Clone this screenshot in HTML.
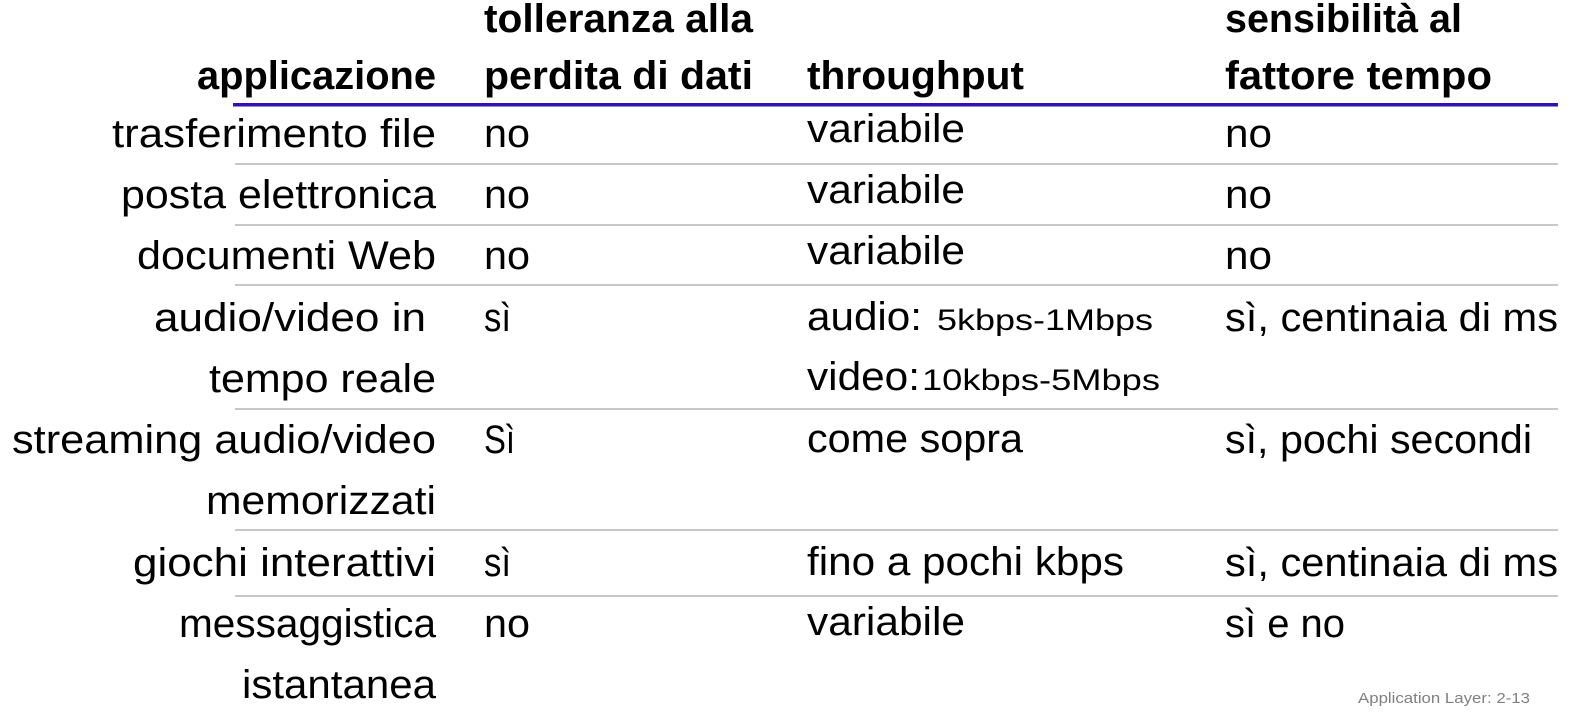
<!DOCTYPE html>
<html><head><meta charset="utf-8"><style>
html,body{margin:0;padding:0;background:#fff;width:1588px;height:724px;overflow:hidden}
svg text{font-family:"Liberation Sans",sans-serif;fill:#000}
</style></head><body>
<svg width="1588" height="724" xmlns="http://www.w3.org/2000/svg">
<g font-size="40" font-weight="bold">
<text x="484" y="32" textLength="269" lengthAdjust="spacingAndGlyphs">tolleranza alla</text>
<text x="1225" y="32" textLength="237" lengthAdjust="spacingAndGlyphs">sensibilità al</text>
<text x="197" y="89" textLength="239" lengthAdjust="spacingAndGlyphs">applicazione</text>
<text x="484" y="89" textLength="269" lengthAdjust="spacingAndGlyphs">perdita di dati</text>
<text x="807" y="89" textLength="217" lengthAdjust="spacingAndGlyphs">throughput</text>
<text x="1225" y="89" textLength="267" lengthAdjust="spacingAndGlyphs">fattore tempo</text>
</g>
<rect x="233" y="103" width="1325" height="3.5" fill="#3310b0"/>
<g fill="#c8c8c8">
<rect x="235" y="163" width="1323" height="2"/>
<rect x="235" y="224" width="1323" height="2"/>
<rect x="235" y="284" width="1323" height="2"/>
<rect x="235" y="408" width="1323" height="2"/>
<rect x="235" y="529" width="1323" height="2"/>
<rect x="235" y="595" width="1323" height="2"/>
</g>
<g font-size="40">
<text x="112" y="147" textLength="324" lengthAdjust="spacingAndGlyphs">trasferimento file</text>
<text x="121" y="208" textLength="315" lengthAdjust="spacingAndGlyphs">posta elettronica</text>
<text x="137" y="269" textLength="299" lengthAdjust="spacingAndGlyphs">documenti Web</text>
<text x="154" y="331" textLength="272" lengthAdjust="spacingAndGlyphs">audio/video in</text>
<text x="209" y="392" textLength="227" lengthAdjust="spacingAndGlyphs">tempo reale</text>
<text x="12" y="453" textLength="424" lengthAdjust="spacingAndGlyphs">streaming audio/video</text>
<text x="206" y="514" textLength="230" lengthAdjust="spacingAndGlyphs">memorizzati</text>
<text x="133" y="576" textLength="303" lengthAdjust="spacingAndGlyphs">giochi interattivi</text>
<text x="179" y="637" textLength="257" lengthAdjust="spacingAndGlyphs">messaggistica</text>
<text x="242" y="698" textLength="194" lengthAdjust="spacingAndGlyphs">istantanea</text>

<text x="484" y="147" textLength="46" lengthAdjust="spacingAndGlyphs">no</text>
<text x="484" y="208" textLength="46" lengthAdjust="spacingAndGlyphs">no</text>
<text x="484" y="269" textLength="46" lengthAdjust="spacingAndGlyphs">no</text>
<text x="484" y="331" textLength="27" lengthAdjust="spacingAndGlyphs">sì</text>
<text x="484" y="453" textLength="31" lengthAdjust="spacingAndGlyphs">Sì</text>
<text x="484" y="576" textLength="27" lengthAdjust="spacingAndGlyphs">sì</text>
<text x="484" y="637" textLength="46" lengthAdjust="spacingAndGlyphs">no</text>

<text x="807" y="142" textLength="158" lengthAdjust="spacingAndGlyphs">variabile</text>
<text x="807" y="203" textLength="158" lengthAdjust="spacingAndGlyphs">variabile</text>
<text x="807" y="264" textLength="158" lengthAdjust="spacingAndGlyphs">variabile</text>
<text x="807" y="330" textLength="115" lengthAdjust="spacingAndGlyphs">audio:</text>
<text x="807" y="390" textLength="113" lengthAdjust="spacingAndGlyphs">video:</text>
<text x="807" y="452" textLength="216" lengthAdjust="spacingAndGlyphs">come sopra</text>
<text x="807" y="575" textLength="317" lengthAdjust="spacingAndGlyphs">fino a pochi kbps</text>
<text x="807" y="635" textLength="158" lengthAdjust="spacingAndGlyphs">variabile</text>

<text x="1225" y="147" textLength="47" lengthAdjust="spacingAndGlyphs">no</text>
<text x="1225" y="208" textLength="47" lengthAdjust="spacingAndGlyphs">no</text>
<text x="1225" y="269" textLength="47" lengthAdjust="spacingAndGlyphs">no</text>
<text x="1225" y="331" textLength="333" lengthAdjust="spacingAndGlyphs">sì, centinaia di ms</text>
<text x="1225" y="453" textLength="307" lengthAdjust="spacingAndGlyphs">sì, pochi secondi</text>
<text x="1225" y="576" textLength="333" lengthAdjust="spacingAndGlyphs">sì, centinaia di ms</text>
<text x="1225" y="637" textLength="120" lengthAdjust="spacingAndGlyphs">sì e no</text>
</g>
<g font-size="30">
<text x="937" y="330" textLength="216" lengthAdjust="spacingAndGlyphs">5kbps-1Mbps</text>
<text x="922" y="390" textLength="238" lengthAdjust="spacingAndGlyphs">10kbps-5Mbps</text>
</g>
<text x="1358" y="703" font-size="15" style="fill:#808080" textLength="172" lengthAdjust="spacingAndGlyphs">Application Layer: 2-13</text>
</svg>
</body></html>
